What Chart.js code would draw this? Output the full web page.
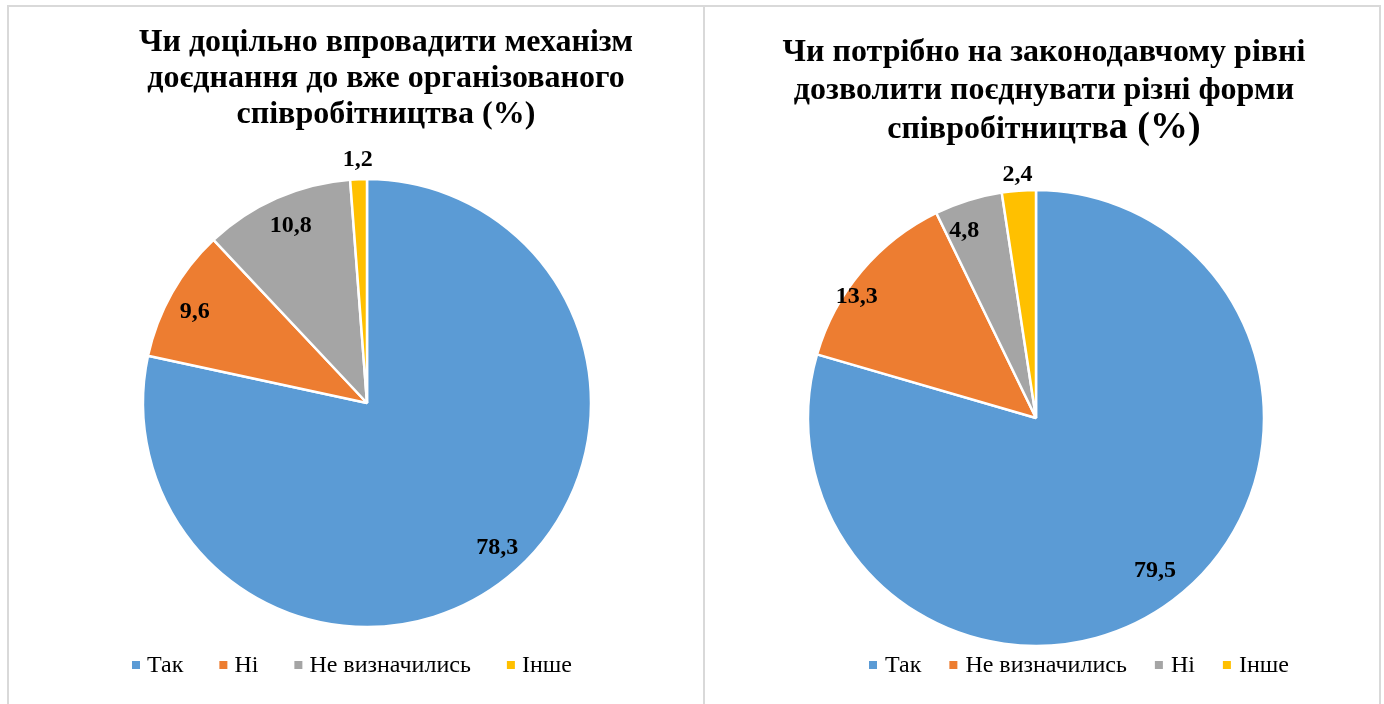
<!DOCTYPE html>
<html>
<head>
<meta charset="utf-8">
<script src="https://cdn.jsdelivr.net/npm/chart.js@4.4.0/dist/chart.umd.min.js"></script>
<style>
  html, body { margin: 0; padding: 0; background: #fff; width: 1384px; height: 704px; overflow: hidden; }
  .box { position: absolute; border: 2px solid #d9d9d9; box-sizing: border-box; background: #fff; }
  .cv { position: absolute; }
</style>
</head>
<body>
<div class="box" style="left:7px; top:5px; width:698px; height:720px;"></div>
<div class="box" style="left:703px; top:5px; width:678px; height:720px;"></div>
<div class="cv" style="left:9px; top:7px; width:694px; height:697px;"><canvas id="c1"></canvas></div>
<div class="cv" style="left:705px; top:7px; width:674px; height:697px;"><canvas id="c2"></canvas></div>
<script>
// ---- data ----
const leftCategories = ['Так', 'Ні', 'Не визначились', 'Інше'];
const leftValues = [78.3, 9.6, 10.8, 1.2];
const leftTitle = ['Чи доцільно впровадити механізм', 'доєднання до вже організованого', 'співробітництва (%)'];

const rightCategories = ['Так', 'Не визначились', 'Ні', 'Інше'];
const rightValues = [79.5, 13.3, 4.8, 2.4];
const rightTitle = ['Чи потрібно на законодавчому рівні', 'дозволити поєднувати різні форми', ['співробітництв', 'а (%)']];

// ---- styles ----
const sliceColors = ['#5B9BD5', '#ED7D31', '#A5A5A5', '#FFC000'];
const SERIF = '"Liberation Serif", "Times New Roman", serif';

const fmt = v => v.toFixed(1).replace('.', ',');

const titlePlugin = {
  id: 'customTitle',
  afterDraw(chart, args, opts) {
    const ctx = chart.ctx;
    ctx.save();
    ctx.fillStyle = '#000';
    ctx.textBaseline = 'alphabetic';
    opts.lines.forEach((line, i) => {
      const segs = Array.isArray(line) ? line : [line];
      const sizes = segs.map((s, j) => (j > 0 && opts.bigTail) ? opts.bigTail : opts.size);
      let total = 0;
      const widths = segs.map((s, j) => {
        ctx.font = 'bold ' + sizes[j] + 'px ' + SERIF;
        const w = ctx.measureText(s).width;
        total += w;
        return w;
      });
      let x = opts.cx - total / 2;
      const y = opts.baselines[i];
      segs.forEach((s, j) => {
        ctx.font = 'bold ' + sizes[j] + 'px ' + SERIF;
        ctx.textAlign = 'left';
        ctx.fillText(s, x, y);
        x += widths[j];
      });
    });
    ctx.restore();
  }
};

const legendPlugin = {
  id: 'customLegend',
  afterDraw(chart, args, opts) {
    const ctx = chart.ctx;
    const labels = chart.data.labels;
    const colors = chart.data.datasets[0].backgroundColor;
    ctx.save();
    ctx.font = opts.size + 'px ' + SERIF;
    ctx.textBaseline = 'middle';
    ctx.textAlign = 'left';
    let x = opts.x;
    labels.forEach((lab, i) => {
      ctx.fillStyle = colors[i];
      ctx.fillRect(x, opts.y - opts.box / 2, opts.box, opts.box);
      ctx.fillStyle = '#000';
      const tx = x + opts.textOffset;
      ctx.fillText(lab, tx, opts.y + 1);
      x = tx + ctx.measureText(lab).width + opts.gap;
    });
    ctx.restore();
  }
};

const valueLabelPlugin = {
  id: 'valueLabels',
  afterDatasetsDraw(chart, args, opts) {
    const ctx = chart.ctx;
    const meta = chart.getDatasetMeta(0);
    const values = chart.data.datasets[0].data;
    ctx.save();
    ctx.font = 'bold ' + opts.size + 'px ' + SERIF;
    ctx.fillStyle = '#000';
    ctx.textAlign = 'center';
    ctx.textBaseline = 'middle';
    meta.data.forEach((arc, i) => {
      const p = arc.getProps(['x', 'y', 'startAngle', 'endAngle', 'outerRadius'], true);
      const mid = (p.startAngle + p.endAngle) / 2 + (opts.angleOffsets[i] || 0) * Math.PI / 180;
      const r = p.outerRadius * opts.radiusFactors[i];
      ctx.fillText(fmt(values[i]), p.x + Math.cos(mid) * r, p.y + Math.sin(mid) * r);
    });
    ctx.restore();
  }
};

function makeChart(id, cats, vals, cfg) {
  return new Chart(document.getElementById(id), {
    type: 'pie',
    data: {
      labels: cats,
      datasets: [{
        data: vals,
        backgroundColor: sliceColors,
        borderColor: '#ffffff',
        borderWidth: 2.5,
        radius: cfg.radius
      }]
    },
    options: {
      responsive: true,
      maintainAspectRatio: false,
      animation: false,
      events: [],
      layout: { padding: cfg.padding },
      plugins: {
        legend: { display: false },
        title: { display: false },
        tooltip: { enabled: false },
        customTitle: cfg.title,
        customLegend: cfg.legend,
        valueLabels: cfg.labels
      }
    },
    plugins: [titlePlugin, legendPlugin, valueLabelPlugin]
  });
}

makeChart('c1', leftCategories, leftValues, {
  radius: 224,
  padding: { left: 22, right: 0, top: 95, bottom: 0 },
  title: { lines: leftTitle, cx: 377, baselines: [44, 80, 116], size: 32 },
  legend: { x: 123, y: 658, box: 8, textOffset: 15, gap: 36, size: 24 },
  labels: { size: 24, radiusFactors: [0.87, 0.87, 0.86, 1.085], angleOffsets: [-3, -1.6, 0.5, 0] }
});

makeChart('c2', rightCategories, rightValues, {
  radius: 228,
  padding: { left: 0, right: 12, top: 125, bottom: 0 },
  title: { lines: rightTitle, cx: 339, baselines: [54, 92, 131], size: 32, bigTail: 38 },
  legend: { x: 164, y: 658, box: 8, textOffset: 16, gap: 28, size: 24 },
  labels: { size: 24, radiusFactors: [0.85, 0.95, 0.88, 1.07], angleOffsets: [-1, -6, -3.7, 0] }
});
</script>
</body>
</html>
